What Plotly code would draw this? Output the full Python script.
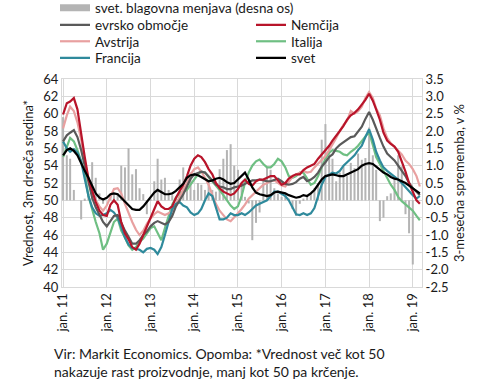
import pandas as pd
import plotly.graph_objects as go

months = pd.date_range("2011-01-01", periods=99, freq="MS").strftime("%Y-%m-%d").tolist()

tick_dates = ["2011-01-01", "2012-01-01", "2013-01-01", "2014-01-01", "2015-01-01",
              "2016-01-01", "2017-01-01", "2018-01-01", "2019-01-01"]
tick_text = ["jan. 11", "jan. 12", "jan. 13", "jan. 14", "jan. 15",
             "jan. 16", "jan. 17", "jan. 18", "jan. 19"]

left_ticks = [40, 42, 44, 46, 48, 50, 52, 54, 56, 58, 60, 62, 64]
right_ticks = [-2.5, -2.0, -1.5, -1.0, -0.5, 0.0, 0.5, 1.0, 1.5, 2.0, 2.5, 3.0, 3.5]
right_text = ["-2.5", "-2.0", "-1.5", "-1.0", "-0.5", "0.0", "0.5", "1.0", "1.5", "2.0", "2.5", "3.0", "3.5"]

# world trade, 3-month change (%), right axis
trade = [2.4, 1.3, 1.2, 0.3, 0.0, -0.55, 0.05, 0.2, 1.1, 0.65, 0.2, -0.1,
         0.0, 0.1, 0.2, 0.2, 1.0, 0.95, 1.5, 0.75, 0.9, 0.35, 0.18, -0.4,
         0.05, 0.55, 1.2, 0.6, 0.65, 0.3, 0.15, 0.1, 0.6, 0.95, 0.65, 0.8,
         0.3, 0.5, 0.45, 0.3, 0.55, 0.3, 0.25, 0.9, 1.2, 1.45, 1.62, 1.0,
         0.88, 0.5, 0.1, -0.09, -1.15, -0.65, -0.35, 0.55, 0.97, 0.88, 0.35, 0.2,
         0.1, 0.15, 0.05, -0.25, -0.45, -0.1, 0.05, 0.1, 0.2, 0.35, 0.5, 1.75,
         2.2, 1.6, 1.2, 0.55, 0.8, 0.98, 0.7, 1.08, 0.93, 1.35, 1.17, 1.22,
         2.1, 1.3, 0.88, -0.6, -0.5, 0.12, 0.2, 0.64, 1.3, 0.98, -0.4, -0.95,
         -1.85, None, None]

euro = [56.8, 57.5, 57.8, 58.1, 57.3, 55.8, 54.0, 52.0, 50.3, 49.2, 48.3, 47.5,
        47.0, 47.6, 48.2, 48.3, 47.4, 46.5, 45.8, 45.0, 45.0, 45.4, 46.0, 46.4,
        47.0, 47.4, 47.6, 47.4, 47.2, 47.5, 48.2, 49.3, 50.0, 50.7, 51.6, 52.5,
        53.0, 53.2, 53.3, 53.2, 52.8, 52.3, 51.8, 51.6, 51.5, 51.3, 51.3, 51.5,
        51.6, 51.7, 51.9, 52.1, 52.3, 52.3, 52.4, 52.3, 52.2, 52.2, 52.4, 52.5,
        52.2, 51.9, 51.8, 51.9, 52.1, 52.5, 52.7, 52.2, 52.4, 52.7, 53.2, 53.9,
        54.4, 55.0, 55.3, 56.0, 56.4, 56.7, 57.0, 57.3, 57.4, 58.0, 58.5, 59.4,
        60.2, 59.3, 58.2, 57.2, 56.2, 55.4, 55.0, 54.6, 54.0, 53.4, 52.8, 52.0,
        51.4, 51.0, 50.6]

germany = [59.9, 61.2, 61.4, 61.8, 60.5, 57.5, 55.0, 52.5, 51.0, 49.8, 48.8, 48.3,
           48.2, 49.5, 50.0, 49.5, 47.5, 46.2, 45.5, 44.6, 44.3, 45.0, 46.0, 47.0,
           48.0, 49.0, 49.9, 49.3, 49.0, 49.0, 49.3, 50.3, 51.0, 51.8, 52.8, 54.0,
           54.8, 55.2, 55.0, 54.4, 53.6, 53.0, 52.0, 51.4, 51.0, 50.8, 50.6, 50.8,
           51.3, 52.0, 52.4, 51.9, 51.7, 52.2, 52.4, 52.4, 52.6, 52.8, 52.8, 52.3,
           51.8, 52.0, 52.5, 52.8, 53.0, 53.0, 53.5, 53.8, 54.0, 54.2, 54.8, 55.3,
           55.7, 56.3, 56.9, 57.4, 58.0, 58.6, 59.3, 59.8, 60.1, 60.5, 61.0, 61.6,
           62.3, 61.5, 60.5, 59.3, 57.8, 56.9, 56.5, 56.2, 55.6, 54.5, 53.3, 52.0,
           51.0, 50.0, 49.6]

austria = [58.3, 59.8, 60.8, 60.3, 59.0, 57.0, 54.5, 52.5, 51.0, 50.0, 49.3, 48.8,
           49.4, 50.4, 51.3, 51.4, 50.8, 49.6, 48.5, 47.5, 46.6, 46.0, 46.5, 47.3,
           47.9, 48.4, 48.7, 48.5, 48.3, 48.5, 48.8, 49.6, 50.4, 51.2, 52.0, 53.0,
           53.6, 53.8, 53.3, 52.6, 51.8, 50.6, 49.6, 48.8, 48.3, 47.8, 47.6, 48.0,
           48.5, 49.0, 49.5, 50.2, 50.6, 51.0, 51.4, 51.8, 52.0, 52.2, 52.3, 52.0,
           51.7, 51.6, 52.2, 52.7, 53.0, 53.2, 53.4, 53.2, 53.3, 53.8, 54.2, 54.7,
           55.1, 55.8, 56.4, 57.2, 58.0, 58.7, 59.2, 60.3, 60.0, 60.3, 60.8, 61.8,
           62.5, 61.8, 60.6, 59.8, 58.3, 57.2, 56.6, 56.2, 55.8, 55.3, 54.6, 54.2,
           53.6, 52.8, 51.6]

italy = [55.0, 56.2, 57.2, 56.8, 55.8, 54.5, 53.0, 50.5, 48.8, 47.5, 46.2, 44.3,
         45.0, 46.4, 47.5, 47.9, 46.5, 45.7, 44.8, 44.3, 44.6, 45.2, 45.6, 46.2,
         46.8, 47.0, 46.2, 45.4, 46.8, 48.3, 49.5, 50.3, 50.8, 51.0, 51.2, 51.8,
         52.4, 53.0, 53.3, 53.2, 52.7, 52.2, 51.8, 51.2, 50.6, 50.0, 49.4, 49.0,
         49.3, 50.5, 52.0, 53.2, 54.0, 54.5, 54.7, 54.2, 53.8, 53.8, 54.2, 54.8,
         54.5, 53.8, 52.8, 52.6, 52.8, 53.2, 53.2, 52.5, 51.8, 52.0, 52.8, 53.8,
         54.8, 55.5, 55.8, 55.7, 55.6, 55.3, 55.2, 55.6, 55.9, 56.3, 56.8, 57.4,
         57.9, 56.4, 55.0, 54.2, 53.4, 52.6, 51.8, 51.2, 50.4, 49.9, 49.5, 49.1,
         48.8, 48.2, 47.7]

france = [56.8, 56.0, 55.6, 55.9, 55.5, 54.5, 52.5, 50.5, 49.2, 48.5, 48.2, 48.3,
          48.5, 48.9, 48.6, 48.0, 46.9, 45.7, 44.9, 44.5, 44.4, 44.3, 44.0, 44.4,
          44.5, 44.3, 43.8, 44.6, 46.0, 47.6, 49.0, 49.6, 49.8, 49.4, 49.2, 48.6,
          48.3, 48.5, 49.0, 50.0, 50.8, 50.5, 49.2, 47.8, 47.8, 48.0, 48.5, 48.3,
          48.3, 48.5, 48.3, 48.6, 49.0, 49.4, 49.6, 49.8, 50.0, 50.5, 51.0, 51.0,
          50.7, 50.5, 50.0, 49.2, 48.4, 48.3, 48.5, 48.3, 48.5, 49.1, 50.6, 51.8,
          52.7, 53.0, 53.2, 53.1, 53.4, 54.0, 54.4, 54.7, 55.2, 55.8, 56.3, 57.3,
          58.2, 57.0, 55.6, 54.6, 53.8, 53.4, 53.1, 52.7, 52.4, 52.0, 51.5, 51.0,
          50.6, 50.2, 50.5]

world = [55.2, 55.8, 56.0, 55.7, 55.2, 54.2, 53.4, 52.6, 51.7, 50.8, 50.3, 50.1,
         50.3, 50.7, 50.8, 50.7, 50.3, 49.9, 49.4, 49.0, 48.9, 48.9, 49.3, 49.8,
         50.4, 50.9, 51.2, 50.9, 50.7, 50.7, 50.8, 51.1, 51.5, 51.9, 52.6, 52.9,
         53.0, 52.9, 52.7, 52.4, 52.2, 52.3, 52.5, 52.6, 52.4, 52.1, 51.9, 52.0,
         52.4, 52.9, 53.2, 52.4, 51.5, 50.9, 50.7, 50.6, 50.5, 50.6, 50.9, 51.0,
         50.9, 50.8, 50.6, 50.4, 50.3, 50.4, 50.6, 50.5, 50.8, 51.2, 51.8, 52.4,
         52.8, 52.9, 53.0, 52.9, 52.8, 52.8, 53.0, 53.2, 53.4, 53.6, 54.0, 54.2,
         54.3, 54.2, 53.9, 53.5, 53.2, 53.0, 52.7, 52.5, 52.4, 52.2, 52.0, 51.7,
         51.4, 51.1, 50.8]

FONT = "Lato"
TXT = "#1a1a1a"
GRID = "#d9d9d9"

fig = go.Figure()

# bars on primary (right-side) axis so lines (on overlay axis) draw above them
fig.add_trace(go.Bar(x=months, y=trade, marker_color="#b4b4b4", marker_line_width=0,
                     showlegend=False, yaxis="y", hoverinfo="skip"))
fig.add_trace(go.Scatter(x=[None], y=[None], mode="lines", name="svet. blagovna menjava (desna os)",
                         line=dict(color="#b4b4b4", width=7), legend="legend", yaxis="y2"))

series = [
    ("Italija", italy, "#6fbf83", "legend5"),
    ("Avstrija", austria, "#e8a0a0", "legend4"),
    ("Francija", france, "#2f8a9c", "legend6"),
    ("evrsko območje", euro, "#5a5a5a", "legend2"),
    ("Nemčija", germany, "#b8142a", "legend3"),
    ("svet", world, "#000000", "legend7"),
]
for name, vals, col, lg in series:
    fig.add_trace(go.Scatter(x=months, y=vals, mode="lines", name=name,
                             line=dict(color=col, width=2.2), legend=lg, yaxis="y2",
                             hoverinfo="skip"))

def py(p):
    return (287 - p) / 208.0

def px(p):
    return (p - 62) / 360.0

leg_common = dict(bgcolor="rgba(0,0,0,0)", borderwidth=0, itemwidth=30,
                  font=dict(family=FONT, size=13.5, color=TXT),
                  xanchor="left", yanchor="middle")
layout_legends = {
    "legend": dict(x=px(55), y=py(8), **leg_common),
    "legend2": dict(x=px(55), y=py(25), **leg_common),
    "legend4": dict(x=px(55), y=py(41.5), **leg_common),
    "legend6": dict(x=px(55), y=py(58), **leg_common),
    "legend3": dict(x=px(251), y=py(25), **leg_common),
    "legend5": dict(x=px(251), y=py(41.5), **leg_common),
    "legend7": dict(x=px(251), y=py(58), **leg_common),
}

fig.update_layout(
    width=490, height=381,
    margin=dict(l=62, r=68, t=79, b=94, autoexpand=False),
    paper_bgcolor="white", plot_bgcolor="white",
    font=dict(family=FONT, size=13, color=TXT),
    bargap=0.4,
    xaxis=dict(range=["2010-12-23", "2019-03-19"], tickvals=tick_dates, ticktext=tick_text,
               tickangle=-90, showgrid=True, gridcolor=GRID, gridwidth=1,
               showline=True, linecolor=GRID, mirror=True, ticks="",
               tickfont=dict(family=FONT, size=13, color=TXT)),
    yaxis=dict(side="right", range=[-2.5, 3.5], tickvals=right_ticks, ticktext=right_text,
               showgrid=True, gridcolor=GRID, gridwidth=1, zeroline=False,
               showline=True, linecolor=GRID, ticks="",
               title=dict(text="3-mesečna sprememba, v %", font=dict(family=FONT, size=13, color=TXT), standoff=6),
               tickfont=dict(family=FONT, size=13, color=TXT)),
    yaxis2=dict(side="left", overlaying="y", range=[40, 64], tickvals=left_ticks,
                showgrid=False, zeroline=False, showline=True, linecolor=GRID, ticks="",
                title=dict(text="Vrednost, 3m drseča sredina*", font=dict(family=FONT, size=13, color=TXT), standoff=6),
                tickfont=dict(family=FONT, size=13, color=TXT)),
    annotations=[dict(
        text="Vir: Markit Economics. Opomba: *Vrednost več kot 50<br>nakazuje rast proizvodnje, manj kot 50 pa krčenje.",
        xref="paper", yref="paper", x=px(52), y=py(343), xanchor="left", yanchor="top",
        align="left", showarrow=False, font=dict(family=FONT, size=14, color=TXT))],
    **layout_legends,
)

fig.write_html("out.html", config={"displayModeBar": False},
               post_script="document.body.style.margin='0';")
